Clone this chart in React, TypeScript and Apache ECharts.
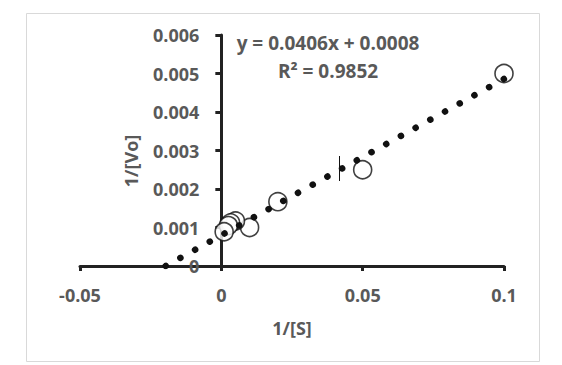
import React, { useEffect, useRef } from "react";
import * as echarts from "echarts";

// Data (1/[S], 1/[Vo])
const invS = [0.1, 0.05, 0.02, 0.01, 0.005, 0.0033, 0.0025, 0.001];
const invVo = [0.005, 0.0025, 0.00167, 0.001, 0.00117, 0.00112, 0.00105, 0.00089];

// Trendline from the displayed equation
const trendSlope = 0.0406;
const trendIntercept = 0.0008;
const trendX = [-0.0197, 0.1];

const xTicks = { min: -0.05, max: 0.1, interval: 0.05 };
const yTicks = { min: 0, max: 0.006, interval: 0.001 };

const equationText = "y = 0.0406x + 0.0008";
const r2Text = "R² = 0.9852";
const xName = "1/[S]";
const yName = "1/[Vo]";

const FONT = "'Open Sans', 'Liberation Sans', sans-serif";
const GREY = "#595959";

const GRID_LEFT = 80;
const GRID_RIGHT = 58;
const PLOT_W = 562 - GRID_LEFT - GRID_RIGHT;

export default function App() {
  const ref = useRef<HTMLDivElement>(null);

  useEffect(() => {
    if (!ref.current) return;
    const chart = echarts.init(ref.current, undefined, { renderer: "svg" });
    const points = invS.map((x, i) => [x, invVo[i]]);
    const trend = trendX.map((x) => [x, trendSlope * x + trendIntercept]);
    // shift the y axis so it sits on x = 0
    const yOffset = -((0 - xTicks.min) / (xTicks.max - xTicks.min)) * PLOT_W;

    chart.setOption({
      animation: false,
      backgroundColor: "#ffffff",
      grid: {
        left: GRID_LEFT,
        right: GRID_RIGHT,
        top: 35,
        bottom: 99,
        containLabel: false,
        outerBoundsMode: "none",
      },
      xAxis: {
        type: "value",
        min: xTicks.min,
        max: xTicks.max,
        interval: xTicks.interval,
        splitLine: { show: false },
        axisLine: { show: true, onZero: true, lineStyle: { color: "#222", width: 3 } },
        axisTick: { show: true, inside: false, length: 5, lineStyle: { color: "#222", width: 3 } },
        axisLabel: {
          color: GREY,
          fontFamily: FONT,
          fontWeight: "bold",
          fontSize: 18,
          margin: 20,
        },
        name: xName,
        nameLocation: "middle",
        nameGap: 53,
        nameTextStyle: { color: GREY, fontFamily: FONT, fontWeight: "bold", fontSize: 18 },
      },
      yAxis: {
        type: "value",
        min: yTicks.min,
        max: yTicks.max,
        interval: yTicks.interval,
        offset: yOffset,
        splitLine: { show: false },
        axisLine: { show: true, onZero: false, lineStyle: { color: "#222", width: 3 } },
        axisTick: { show: true, inside: false, length: 6, lineStyle: { color: "#222", width: 3 } },
        axisLabel: {
          color: GREY,
          fontFamily: FONT,
          fontWeight: "bold",
          fontSize: 18,
          margin: 22,
        },
      },
      series: [
        {
          type: "scatter",
          data: points,
          symbol: "circle",
          symbolSize: 18,
          z: 2,
          itemStyle: { color: "#ffffff", borderColor: "#111", borderWidth: 1.6 },
        },
        {
          type: "line",
          data: trend,
          showSymbol: false,
          symbol: "none",
          z: 3,
          lineStyle: { color: "#111", width: 6.5, type: [0.1, 16.7], cap: "round" },
        },
      ],
      graphic: [
        {
          type: "rect",
          silent: true,
          shape: { x: 26.5, y: 13.5, width: 513, height: 348 },
          style: { fill: "none", stroke: "#d9d9d9", lineWidth: 1 },
          z: -1,
        },
        {
          type: "text",
          x: 328,
          y: 43,
          style: {
            text: equationText,
            fill: GREY,
            font: `bold 19px ${FONT}`,
            textAlign: "center",
            textVerticalAlign: "middle",
          },
        },
        {
          type: "text",
          x: 328,
          y: 71,
          style: {
            text: r2Text,
            fill: GREY,
            font: `bold 19px ${FONT}`,
            textAlign: "center",
            textVerticalAlign: "middle",
          },
        },
        {
          type: "text",
          x: 131,
          y: 161,
          rotation: Math.PI / 2,
          style: {
            text: yName,
            fill: GREY,
            font: `bold 18px ${FONT}`,
            textAlign: "center",
            textVerticalAlign: "middle",
          },
        },
        {
          type: "line",
          silent: true,
          shape: { x1: 339.5, y1: 156, x2: 339.5, y2: 181 },
          style: { stroke: "#111", lineWidth: 1 },
        },
      ],
    });
    return () => chart.dispose();
  }, []);

  return (
    <div
      ref={ref}
      style={{ position: "fixed", left: 0, top: 0, width: 562, height: 365, background: "#fff" }}
    />
  );
}
